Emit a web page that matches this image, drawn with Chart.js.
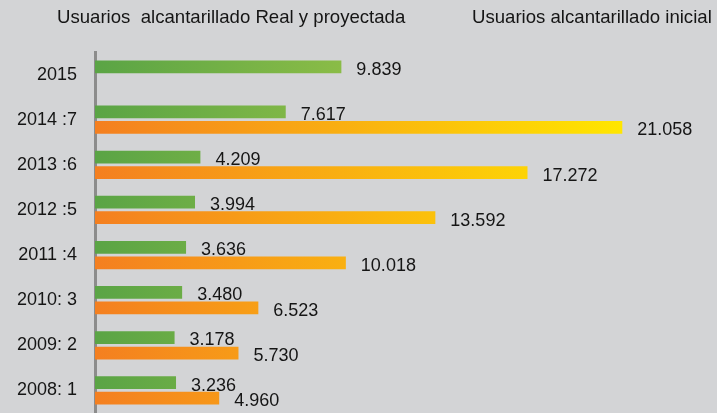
<!DOCTYPE html>
<html>
<head>
<meta charset="utf-8">
<script src="https://cdn.jsdelivr.net/npm/chart.js@4.4.1/dist/chart.umd.min.js"></script>
<style>
html, body { margin: 0; padding: 0; background: #d3d4d6; overflow: hidden; }
#contenedor { width: 717px; height: 413px; }
</style>
</head>
<body>
<div id="contenedor"><canvas id="grafico"></canvas></div>
<script>
const categorias = ['2015', '2014 :7', '2013 :6', '2012 :5', '2011 :4', '2010: 3', '2009: 2', '2008: 1'];
const realProyectada = [9839, 7617, 4209, 3994, 3636, 3480, 3178, 3236];
const inicial = [null, 21058, 17272, 13592, 10018, 6523, 5730, 4960];
const nombres = ['Usuarios  alcantarillado Real y proyectada', 'Usuarios alcantarillado inicial'];
const ejeMax = 24840;

Chart.defaults.font.family = "'Liberation Sans', Arial, sans-serif";

function formatear(v) {
    return String(v).replace(/\B(?=(\d{3})+(?!\d))/g, '.');
}

// degradado horizontal segun la escala x
function degradado(context, desde, hasta, valorFinal) {
    const chart = context.chart;
    if (!chart.chartArea) return desde;
    const x = chart.scales.x;
    const g = chart.ctx.createLinearGradient(x.getPixelForValue(0), 0, x.getPixelForValue(valorFinal), 0);
    g.addColorStop(0, desde);
    g.addColorStop(1, hasta);
    return g;
}

const leyendaTexto = {
    id: 'leyendaTexto',
    afterDraw(chart) {
        const ctx = chart.ctx;
        ctx.save();
        ctx.font = "18.6px 'Liberation Sans', Arial, sans-serif";
        ctx.fillStyle = '#151515';
        ctx.textBaseline = 'alphabetic';
        ctx.textAlign = 'left';
        ctx.fillText(chart.data.datasets[0].label, 57, 23);
        ctx.fillText(chart.data.datasets[1].label, 472, 23);
        ctx.restore();
    }
};

const etiquetas = {
    id: 'etiquetas',
    afterDatasetsDraw(chart) {
        const ctx = chart.ctx;
        ctx.save();
        ctx.font = "18px 'Liberation Sans', Arial, sans-serif";
        ctx.fillStyle = '#151515';
        ctx.textBaseline = 'middle';
        ctx.textAlign = 'left';
        chart.data.datasets.forEach((ds, i) => {
            chart.getDatasetMeta(i).data.forEach((bar, j) => {
                const v = ds.data[j];
                if (v === null) return;
                ctx.fillText(formatear(v), bar.x + 15, bar.y + 3);
            });
        });
        ctx.restore();
    }
};

new Chart(document.getElementById('grafico'), {
    type: 'bar',
    data: {
        labels: categorias,
        datasets: [{
            label: nombres[0],
            data: realProyectada,
            backgroundColor: ctx => degradado(ctx, '#5aa445', '#8abc47', 9839),
            borderWidth: 0,
            categoryPercentage: 0.69,
            barPercentage: 0.82
        }, {
            label: nombres[1],
            data: inicial,
            backgroundColor: ctx => degradado(ctx, '#f47f20', '#ffe600', 21058),
            borderWidth: 0,
            categoryPercentage: 0.69,
            barPercentage: 0.82
        }]
    },
    options: {
        indexAxis: 'y',
        responsive: true,
        maintainAspectRatio: false,
        animation: false,
        layout: {
            padding: { top: 52, right: 0, bottom: 0, left: 0 }
        },
        scales: {
            x: {
                display: false,
                min: 0,
                max: ejeMax
            },
            y: {
                afterFit: function(scale) {
                    scale.width = 95;
                    scale.paddingTop = 0;
                    scale.paddingBottom = 0;
                },
                grid: { display: false, drawTicks: false },
                border: { display: true, color: '#8c8c8c', width: 3 },
                ticks: {
                    color: '#151515',
                    padding: 18,
                    font: { size: 18 }
                }
            }
        },
        plugins: {
            legend: { display: false },
            tooltip: { enabled: false }
        }
    },
    plugins: [leyendaTexto, etiquetas]
});
</script>
</body>
</html>
